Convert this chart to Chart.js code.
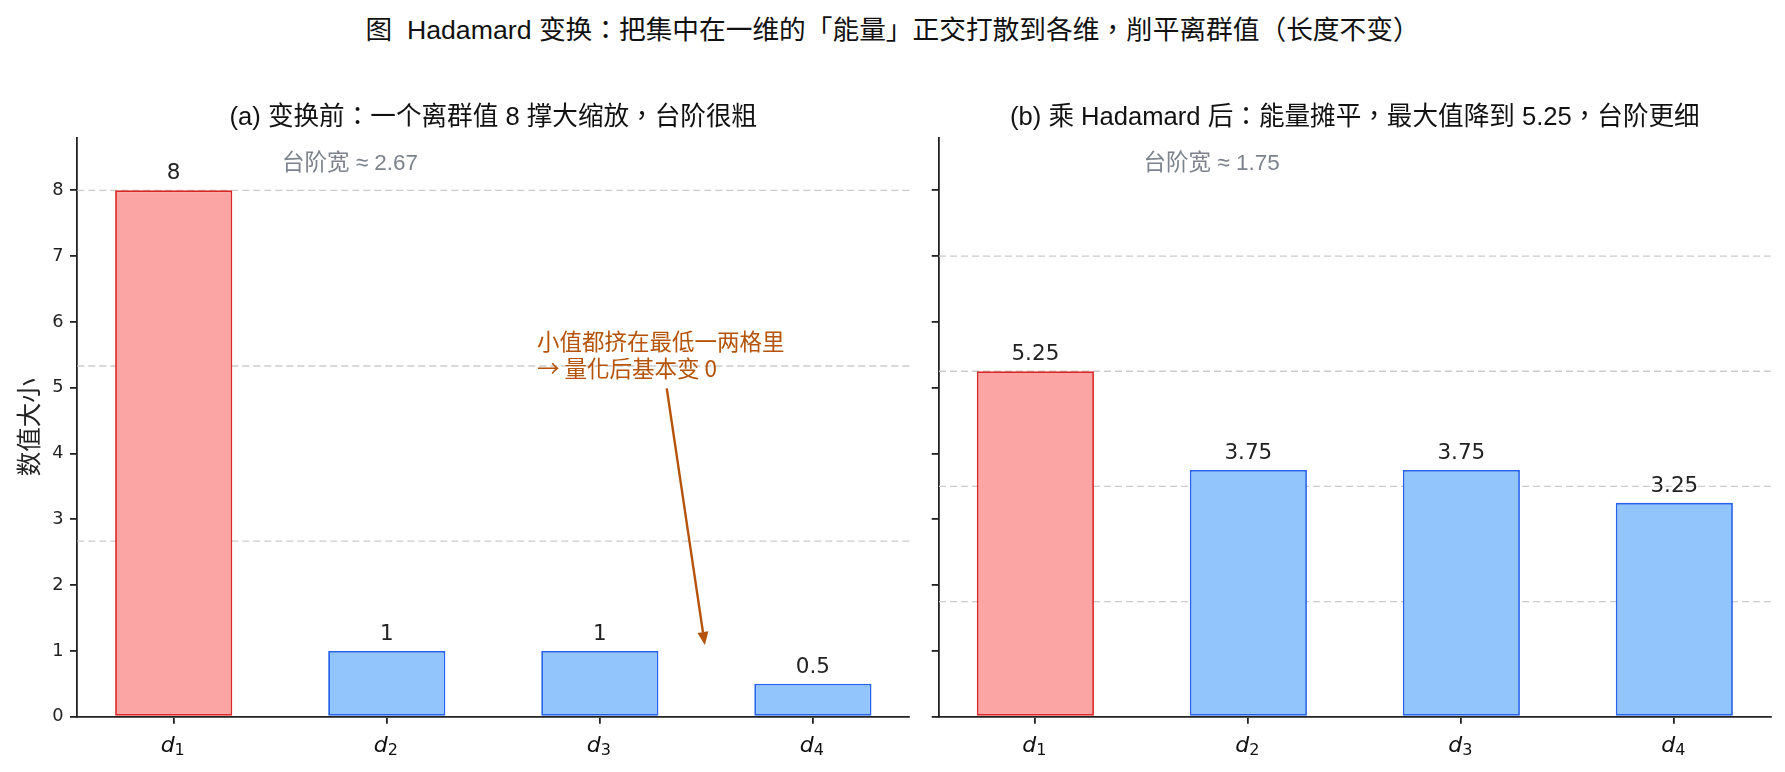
<!DOCTYPE html>
<html lang="zh-TW">
<head>
<meta charset="UTF-8">
<script src="https://cdn.jsdelivr.net/npm/chart.js@4"></script>
<title>Hadamard</title>
<style>
  body{margin:0; background:#fff; width:1785px; height:772px; overflow:hidden; position:relative;}
  #suptitle{position:absolute; left:0; top:14px; width:1785px; text-align:center; white-space:pre;
    font:26.7px 'Liberation Sans','Noto Sans CJK TC',sans-serif; line-height:32px; color:#111;}
  #cvA{position:absolute; left:0; top:0;}
  #cvB{position:absolute; left:920px; top:0;}
</style>
</head>
<body>
<div id="suptitle">图  Hadamard 变换：把集中在一维的「能量」正交打散到各维，削平离群值（长度不变）</div>
<canvas id="cvA" width="920" height="772"></canvas>
<canvas id="cvB" width="865" height="772"></canvas>
<script>
// data
const dims = ['d_1', 'd_2', 'd_3', 'd_4'];
const beforeVals = [8, 1, 1, 0.5];
const afterVals = [5.25, 3.75, 3.75, 3.25];
const beforeLevels = [2.67, 5.33, 8];     // quantisation steps, before
const afterLevels = [1.75, 3.5, 5.25, 7];  // quantisation steps, after

const RED_FILL = '#fca5a5', RED_EDGE = '#dc2626';
const BLUE_FILL = '#93c5fd', BLUE_EDGE = '#2563eb';
const INK = '#222';
const TITLE_FONT = "'Liberation Sans','Noto Sans CJK TC',sans-serif";

// dashed levels, value labels, panel title, note, arrow, x labels
const panelPlugin = {
  id: 'panel',
  beforeDatasetsDraw(chart, args, o) {
    const {ctx, chartArea: ca, scales: {y}} = chart;
    ctx.save();
    ctx.strokeStyle = '#cccccc';
    ctx.lineWidth = 1.3;
    ctx.setLineDash([7, 4]);
    o.levels.forEach(v => {
      const py = y.getPixelForValue(v);
      ctx.beginPath(); ctx.moveTo(ca.left, py); ctx.lineTo(ca.right, py); ctx.stroke();
    });
    ctx.restore();
  },
  afterDraw(chart, args, o) {
    const {ctx, chartArea: ca, scales: {x, y}} = chart;
    ctx.save();
    // value labels
    ctx.fillStyle = INK;
    ctx.font = "21.5px 'DejaVu Sans'";
    ctx.textAlign = 'center';
    ctx.textBaseline = 'alphabetic';
    chart.getDatasetMeta(0).data.forEach((bar, i) => {
      ctx.fillText(String(o.values[i]), bar.x, bar.y - 11);
    });
    // x tick labels: italic d with subscript
    ctx.textAlign = 'left';
    x.ticks.forEach((t, k) => {
      const [base, sub] = dims[t.value].split('_');
      const px = x.getPixelForTick(k);
      ctx.font = "italic 22px 'DejaVu Sans'";
      const wb = ctx.measureText(base).width;
      ctx.font = "16px 'DejaVu Sans'";
      const ws = ctx.measureText(sub).width;
      const x0 = px - (wb + ws) / 2 - 1;
      ctx.fillStyle = '#111';
      ctx.font = "italic 22px 'DejaVu Sans'";
      ctx.fillText(base, x0, ca.bottom + 35);
      ctx.font = "16px 'DejaVu Sans'";
      ctx.fillText(sub, x0 + wb, ca.bottom + 38);
    });
    // subplot title
    ctx.textAlign = 'center';
    ctx.fillStyle = '#111';
    ctx.font = '25.6px ' + TITLE_FONT;
    ctx.textBaseline = 'middle';
    ctx.fillText(o.title, (ca.left + ca.right) / 2, ca.top - 20);
    // step note
    ctx.fillStyle = '#7d838c';
    ctx.font = '22.5px ' + TITLE_FONT;
    ctx.textAlign = 'left';
    ctx.fillText(o.note, ca.left + 0.246 * ca.width, ca.top + 26.5);
    // annotation
    if (o.arrow) {
      const a = o.arrow;
      ctx.fillStyle = '#b45309';
      ctx.strokeStyle = '#b45309';
      ctx.font = "22.5px 'Noto Sans CJK SC'";
      const tx = x.getPixelForValue(a.textAt[0]), ty = y.getPixelForValue(a.textAt[1]);
      a.lines.forEach((s, k) => ctx.fillText(s, tx, ty + k * 27));
      const x0 = x.getPixelForValue(a.from[0]), y0 = y.getPixelForValue(a.from[1]);
      const x1 = x.getPixelForValue(a.to[0]), y1 = y.getPixelForValue(a.to[1]);
      const ang = Math.atan2(y1 - y0, x1 - x0), hl = 13, hw = 5.5;
      const bx = x1 - hl * Math.cos(ang), by = y1 - hl * Math.sin(ang);
      ctx.lineWidth = 2.4;
      ctx.beginPath(); ctx.moveTo(x0, y0); ctx.lineTo(bx, by); ctx.stroke();
      ctx.beginPath();
      ctx.moveTo(x1, y1);
      ctx.lineTo(bx + hw * Math.sin(ang), by - hw * Math.cos(ang));
      ctx.lineTo(bx - hw * Math.sin(ang), by + hw * Math.cos(ang));
      ctx.closePath(); ctx.fill();
    }
    ctx.restore();
  }
};

function makePanel(id, values, levels, cfg) {
  return new Chart(document.getElementById(id), {
    type: 'bar',
    data: {
      datasets: [{
        data: values.map((v, i) => ({x: i, y: v})),
        backgroundColor: values.map((v, i) => i === 0 ? RED_FILL : BLUE_FILL),
        borderColor: values.map((v, i) => i === 0 ? RED_EDGE : BLUE_EDGE),
        borderWidth: 1.8,
        borderSkipped: false,
        categoryPercentage: 1,
        barPercentage: 0.55
      }]
    },
    plugins: [panelPlugin],
    options: {
      responsive: false,
      animation: false,
      devicePixelRatio: 1,
      layout: {padding: {left: 0, right: cfg.padRight, top: 137.7, bottom: 0}},
      plugins: {
        legend: {display: false},
        tooltip: {enabled: false},
        panel: {values: values, levels: levels, title: cfg.title, note: cfg.note, arrow: cfg.arrow}
      },
      scales: {
        x: {
          type: 'linear', min: -0.4525, max: 3.4525, offset: false,
          border: {display: true, color: INK, width: 1.8},
          grid: {offset: false, drawOnChartArea: false, drawTicks: true, tickLength: 7, color: INK, lineWidth: 1.8},
          ticks: {
            stepSize: 1, includeBounds: false, autoSkip: false, maxRotation: 0, padding: 6,
            callback: () => '',
            font: {family: "'DejaVu Sans'", size: 22}
          },
          afterFit(s) { s.height = 55.3; }
        },
        y: {
          min: 0, max: 8.8,
          border: {display: true, color: INK, width: 1.8},
          grid: {drawOnChartArea: false, drawTicks: true, tickLength: 7.3, color: INK, lineWidth: 1.8},
          ticks: {
            stepSize: 1, includeBounds: false, padding: 6.5,
            callback: v => cfg.showY ? String(v) : '',
            font: {family: "'DejaVu Sans'", size: 17.8}, color: INK
          },
          title: {
            display: cfg.showY, text: '数值大小', color: INK,
            font: {family: "'Noto Sans CJK SC'", size: 24.5, lineHeight: 1.2},
            padding: {top: 13.8, bottom: 0}
          },
          afterFit(s) { s.width = cfg.axisW; }
        }
      }
    }
  });
}

makePanel('cvA', beforeVals, beforeLevels, {
  padRight: 10.7, axisW: 77.3, showY: true,
  title: '(a) 变换前：一个离群值 8 撑大缩放，台阶很粗',
  note: '台阶宽 ≈ 2.67',
  arrow: {
    lines: ['小值都挤在最低一两格里', '→ 量化后基本变 0'],
    textAt: [1.705, 5.71], from: [2.314, 4.99], to: [2.493, 1.09]
  }
});

makePanel('cvB', afterVals, afterLevels, {
  padRight: 14.3, axisW: 19, showY: false,
  title: '(b) 乘 Hadamard 后：能量摊平，最大值降到 5.25，台阶更细',
  note: '台阶宽 ≈ 1.75',
  arrow: null
});
</script>
</body>
</html>
